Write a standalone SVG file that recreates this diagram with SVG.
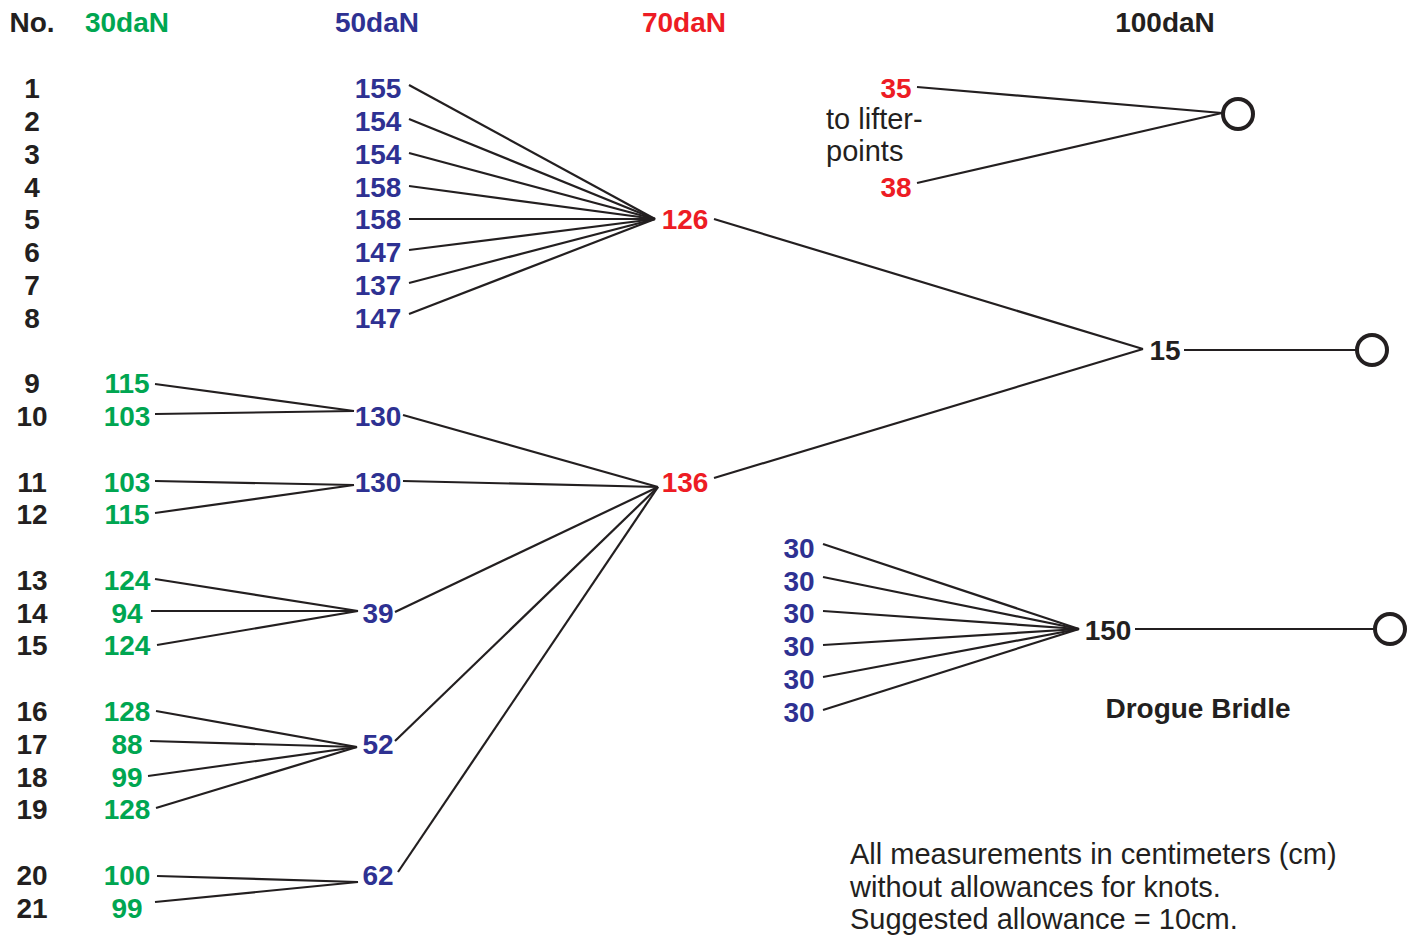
<svg xmlns="http://www.w3.org/2000/svg" width="1421" height="935" viewBox="0 0 1421 935">
<style>
text{font-family:"Liberation Sans",Arial,sans-serif;font-size:28px;font-weight:bold;text-anchor:middle;dominant-baseline:central}
.k{fill:#231F20}.g{fill:#00A651}.b{fill:#2E3192}.r{fill:#ED1C24}
.n{font-weight:normal;font-size:29px;text-anchor:start}
#connectors line{stroke:#231F20;stroke-width:2.2;fill:none}
circle{fill:none;stroke:#231F20;stroke-width:4}
</style>
<rect width="1421" height="935" fill="#fff"/>
<g id="headers">
<text class="k" x="32" y="22">No.</text>
<text class="g" x="127" y="22">30daN</text>
<text class="b" x="377" y="22">50daN</text>
<text class="r" x="684" y="22">70daN</text>
<text class="k" x="1165" y="22">100daN</text>
</g>
<g id="numbers" class="k">
<text class="k" x="32" y="88">1</text>
<text class="k" x="32" y="121">2</text>
<text class="k" x="32" y="154">3</text>
<text class="k" x="32" y="187">4</text>
<text class="k" x="32" y="219">5</text>
<text class="k" x="32" y="252">6</text>
<text class="k" x="32" y="285">7</text>
<text class="k" x="32" y="318">8</text>
<text class="k" x="32" y="383">9</text>
<text class="k" x="32" y="416">10</text>
<text class="k" x="32" y="482">11</text>
<text class="k" x="32" y="514">12</text>
<text class="k" x="32" y="580">13</text>
<text class="k" x="32" y="613">14</text>
<text class="k" x="32" y="645">15</text>
<text class="k" x="32" y="711">16</text>
<text class="k" x="32" y="744">17</text>
<text class="k" x="32" y="777">18</text>
<text class="k" x="32" y="809">19</text>
<text class="k" x="32" y="875">20</text>
<text class="k" x="32" y="908">21</text>
</g>
<g id="connectors">
<line x1="409" y1="85" x2="655" y2="219"/>
<line x1="409" y1="119" x2="655" y2="219"/>
<line x1="409" y1="153" x2="655" y2="219"/>
<line x1="409" y1="186" x2="655" y2="219"/>
<line x1="409" y1="219" x2="655" y2="219"/>
<line x1="409" y1="250" x2="655" y2="219"/>
<line x1="409" y1="283" x2="655" y2="219"/>
<line x1="409" y1="314" x2="655" y2="219"/>
<line x1="714" y1="219" x2="1143" y2="349"/>
<line x1="714" y1="478" x2="1143" y2="349"/>
<line x1="1184" y1="350" x2="1357" y2="350"/>
<line x1="917" y1="87" x2="1222" y2="113"/>
<line x1="917" y1="183" x2="1222" y2="113"/>
<line x1="155" y1="384" x2="354" y2="411"/>
<line x1="155" y1="414" x2="354" y2="411"/>
<line x1="403" y1="415" x2="658" y2="487"/>
<line x1="155" y1="481" x2="354" y2="485"/>
<line x1="155" y1="513" x2="354" y2="485"/>
<line x1="403" y1="481" x2="658" y2="487"/>
<line x1="155" y1="579" x2="358" y2="611"/>
<line x1="151" y1="611" x2="358" y2="611"/>
<line x1="157" y1="645" x2="358" y2="611"/>
<line x1="395" y1="612" x2="658" y2="487"/>
<line x1="156" y1="711" x2="357" y2="747"/>
<line x1="150" y1="741" x2="357" y2="747"/>
<line x1="148" y1="776" x2="357" y2="747"/>
<line x1="156" y1="808" x2="357" y2="747"/>
<line x1="395" y1="741" x2="658" y2="487"/>
<line x1="157" y1="876" x2="358" y2="882"/>
<line x1="155" y1="902" x2="358" y2="882"/>
<line x1="398" y1="872" x2="658" y2="487"/>
<line x1="823" y1="544" x2="1079" y2="629"/>
<line x1="823" y1="577" x2="1079" y2="629"/>
<line x1="823" y1="611" x2="1079" y2="629"/>
<line x1="823" y1="645" x2="1079" y2="629"/>
<line x1="823" y1="677" x2="1079" y2="629"/>
<line x1="823" y1="710" x2="1079" y2="629"/>
<line x1="1135" y1="629" x2="1374" y2="629"/>
</g>
<g id="n50-1to8">
<text class="b" x="378" y="88">155</text>
<text class="b" x="378" y="121">154</text>
<text class="b" x="378" y="154">154</text>
<text class="b" x="378" y="187">158</text>
<text class="b" x="378" y="219">158</text>
<text class="b" x="378" y="252">147</text>
<text class="b" x="378" y="285">137</text>
<text class="b" x="378" y="318">147</text>
</g>
<g id="n30">
<text class="g" x="127" y="383">115</text>
<text class="g" x="127" y="416">103</text>
<text class="g" x="127" y="482">103</text>
<text class="g" x="127" y="514">115</text>
<text class="g" x="127" y="580">124</text>
<text class="g" x="127" y="613">94</text>
<text class="g" x="127" y="645">124</text>
<text class="g" x="127" y="711">128</text>
<text class="g" x="127" y="744">88</text>
<text class="g" x="127" y="777">99</text>
<text class="g" x="127" y="809">128</text>
<text class="g" x="127" y="875">100</text>
<text class="g" x="127" y="908">99</text>
</g>
<g id="n50-9to21">
<text class="b" x="378" y="416">130</text>
<text class="b" x="378" y="482">130</text>
<text class="b" x="378" y="613">39</text>
<text class="b" x="378" y="744">52</text>
<text class="b" x="378" y="875">62</text>
</g>
<g id="n70">
<text class="r" x="685" y="219">126</text>
<text class="r" x="685" y="482">136</text>
</g>
<g id="n100">
<text class="k" x="1165" y="350">15</text>
<circle cx="1372" cy="350" r="15"/>
</g>
<g id="lifter">
<text class="r" x="896" y="88">35</text>
<text class="r" x="896" y="187">38</text>
<text class="k n" x="826" y="119">to lifter-</text>
<text class="k n" x="826" y="151">points</text>
<circle cx="1238" cy="114" r="15"/>
</g>
<g id="drogue">
<text class="b" x="799" y="548">30</text>
<text class="b" x="799" y="581">30</text>
<text class="b" x="799" y="613">30</text>
<text class="b" x="799" y="646">30</text>
<text class="b" x="799" y="679">30</text>
<text class="b" x="799" y="712">30</text>
<text class="k" x="1108" y="630">150</text>
<circle cx="1390" cy="629" r="15"/>
<text class="k" x="1198" y="708">Drogue Bridle</text>
</g>
<g id="note">
<text class="k n" x="850" y="854">All measurements in centimeters (cm)</text>
<text class="k n" x="850" y="887">without allowances for knots.</text>
<text class="k n" x="850" y="919">Suggested allowance = 10cm.</text>
</g>
</svg>
